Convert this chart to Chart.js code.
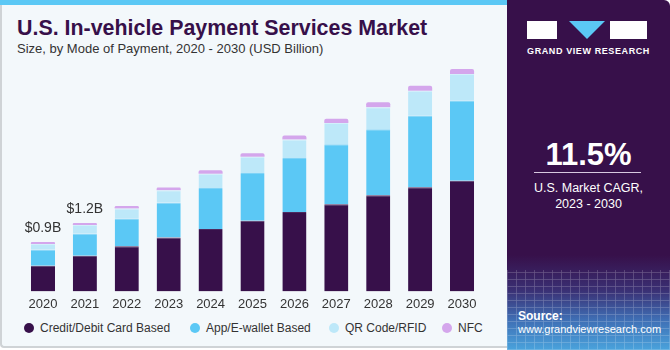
<!DOCTYPE html>
<html>
<head>
<meta charset="utf-8">
<script src="https://cdn.jsdelivr.net/npm/chart.js@4"></script>
<style>
  html,body{margin:0;padding:0;}
  body{width:670px;height:350px;position:relative;overflow:hidden;background:#ffffff;font-family:"Liberation Sans",Arial,sans-serif;}
  #left{position:absolute;left:0;top:0;width:507px;height:348px;background:#f3f8fb;border-left:2px solid #cfd3d6;border-bottom:2px solid #cfd3d6;box-sizing:border-box;border-bottom-left-radius:4px;}
  #strip{position:absolute;left:0;top:0;width:507px;height:5px;background:#5bc8f5;}
  #title{position:absolute;left:17px;top:16px;font-size:21.4px;font-weight:bold;color:#37104a;white-space:nowrap;}
  #sub{position:absolute;left:17px;top:41px;font-size:13px;color:#333;white-space:nowrap;}
  #wrap{position:absolute;left:0;top:60px;width:500px;height:260px;}
  #legend{position:absolute;top:321px;left:0;font-size:12px;color:#333;white-space:nowrap;}
  .li{position:absolute;top:0;display:flex;align-items:center;}
  .dot{width:10px;height:10px;border-radius:50%;margin-right:6px;}
  #right{position:absolute;left:507px;top:0;width:163px;height:350px;border-top-right-radius:6px;overflow:hidden;
    background:linear-gradient(to bottom,#37104a 0px,#37104a 255px,#3a2f73 290px,#3f6fb5 320px,#4aa3dc 350px);}
  #grid{position:absolute;left:0;top:270px;width:163px;height:80px;opacity:0.25;
    background-image:repeating-linear-gradient(0deg,rgba(255,255,255,0.7) 0 1px,transparent 1px 7px),repeating-linear-gradient(90deg,rgba(255,255,255,0.7) 0 1px,transparent 1px 9px);}
  .w{position:absolute;color:#fff;}
</style>
</head>
<body>
<div id="left"></div>
<div id="strip"></div>
<div id="title">U.S. In-vehicle Payment Services Market</div>
<div id="sub">Size, by Mode of Payment, 2020 - 2030 (USD Billion)</div>
<div id="wrap"><canvas id="c"></canvas></div>
<div id="legend"></div>
<div id="right">
  <div id="grid"></div>
  <div style="position:absolute;left:20px;top:21px;width:30px;height:18px;background:#fff;"></div>
  <div style="position:absolute;left:62px;top:21px;width:0;height:0;border-left:18px solid transparent;border-right:18px solid transparent;border-top:18px solid #5bc8f5;"></div>
  <div style="position:absolute;left:103px;top:21px;width:37px;height:18px;background:#fff;"></div>
  <div class="w" style="left:0;width:163px;top:46px;text-align:center;font-size:9px;font-weight:bold;letter-spacing:0.6px;">GRAND VIEW RESEARCH</div>
  <div class="w" style="left:0;width:163px;top:137px;text-align:center;font-size:31px;font-weight:bold;">11.5%</div>
  <div style="position:absolute;left:27px;top:172px;width:107px;height:1px;background:#d8c8e0;"></div>
  <div class="w" style="left:0;width:163px;top:180px;text-align:center;font-size:12.5px;line-height:16px;">U.S. Market CAGR,<br>2023 - 2030</div>
  <div class="w" style="left:11px;top:309px;font-size:12px;font-weight:bold;">Source:</div>
  <div class="w" style="left:11px;top:323px;font-size:11px;">www.grandviewresearch.com</div>
</div>
<script>
const years = ["2020","2021","2022","2023","2024","2025","2026","2027","2028","2029","2030"];
const creditDebit = [0.456,0.632,0.800,0.953,1.105,1.251,1.404,1.544,1.702,1.842,1.958];
const appEwallet  = [0.281,0.391,0.491,0.614,0.725,0.842,0.953,1.058,1.163,1.268,1.416];
const qrRfid      = [0.105,0.153,0.175,0.223,0.251,0.286,0.328,0.374,0.391,0.439,0.468];
const nfc         = [0.035,0.035,0.047,0.046,0.060,0.065,0.070,0.077,0.088,0.088,0.088];
const totalLabels = ["$0.9B","$1.2B","","","","","","","","",""];
const seriesNames = ["Credit/Debit Card Based","App/E-wallet Based","QR Code/RFID","NFC"];
const colors = ["#37104a","#5bc8f5","#bde8f9","#d4a6ec"];
const borders = ["#4e2a5f","#7fd3f7","#d2f0fb","#dcb6ef"];

const legendX = [24,190,329,442];
const leg = document.getElementById('legend');
seriesNames.forEach((n,i)=>{
  const d=document.createElement('div');d.className='li';d.style.left=legendX[i]+'px';
  d.innerHTML='<span class="dot" style="background:'+colors[i]+'"></span>'+n;leg.appendChild(d);
});

const totalsPlugin = {
  id:'totals',
  afterDatasetsDraw(chart){
    const ctx=chart.ctx, x=chart.scales.x, y=chart.scales.y;
    ctx.save();ctx.font='14px "Liberation Sans", Arial, sans-serif';ctx.fillStyle='#333';
    ctx.textAlign='center';ctx.textBaseline='bottom';
    years.forEach((yr,i)=>{
      if(!totalLabels[i])return;
      const t=creditDebit[i]+appEwallet[i]+qrRfid[i]+nfc[i];
      ctx.fillText(totalLabels[i],x.getPixelForValue(i),y.getPixelForValue(t)-7);
    });
    ctx.restore();
  }
};

const data=[creditDebit,appEwallet,qrRfid,nfc];
new Chart(document.getElementById('c'),{
  type:'bar',
  data:{labels:years,datasets:data.map((d,i)=>({label:seriesNames[i],data:d,backgroundColor:colors[i],borderColor:borders[i],
    borderWidth:i===3?0:{top:1,left:0,right:0,bottom:0},borderSkipped:false,
    borderRadius:i===3?{topLeft:2,topRight:2}:0,barPercentage:0.575,categoryPercentage:1}))},
  options:{responsive:true,maintainAspectRatio:false,animation:false,
    layout:{padding:{left:22,right:17,top:0,bottom:3}},
    plugins:{legend:{display:false},tooltip:{enabled:false}},
    scales:{
      x:{stacked:true,grid:{display:false,drawTicks:false},border:{display:false},
         ticks:{padding:2,color:'#333',font:{size:13,lineHeight:1.65,family:'"Liberation Sans", Arial, sans-serif'}}},
      y:{stacked:true,display:false,min:0,max:4.09}
    }},
  plugins:[totalsPlugin]
});
</script>
</body>
</html>
